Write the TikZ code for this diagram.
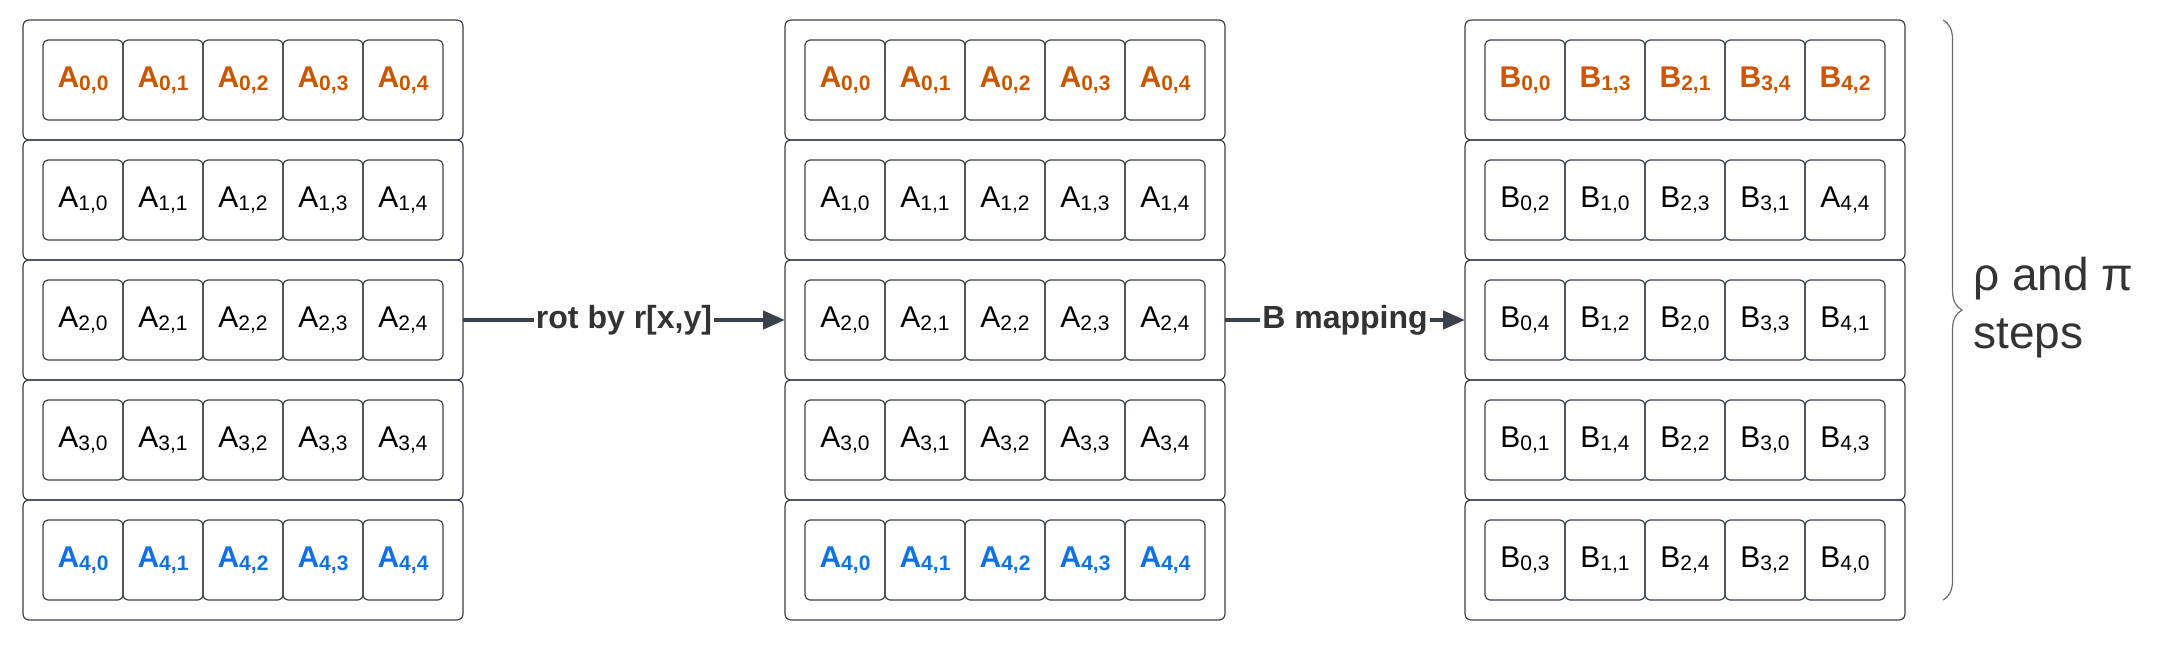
\documentclass[tikz,border=0pt]{standalone}
\usepackage{fontspec}
\setmainfont{Liberation Sans}
\usepackage{xcolor}
\usepackage{tikz}
\usetikzlibrary{positioning, arrows.meta, decorations.pathreplacing}
\definecolor{edgegray}{RGB}{58, 65, 74}
\definecolor{keyorange}{RGB}{204, 85, 0}
\definecolor{keyblue}{RGB}{16, 113, 229}
\definecolor{labelgray}{RGB}{51, 51, 51}
\definecolor{bracegray}{RGB}{105, 108, 112}
\newcommand{\ent}[2]{#1\raisebox{-1.6pt}{\fontsize{10.5}{12}\selectfont #2}}

\begin{document}
\begin{tikzpicture}[
    rowbox/.style={rectangle, draw=edgegray, line width=0.6pt, rounded corners=3pt, minimum width=220pt, minimum height=60pt, inner sep=0pt, outer sep=0pt},
    cell/.style={rectangle, draw=edgegray, line width=0.6pt, rounded corners=2.5pt, minimum width=40pt, minimum height=40pt, inner sep=0pt, outer sep=0pt, font=\fontsize{15}{18}\selectfont},
    toprow/.style={cell, text=keyorange, font=\fontsize{15}{18}\selectfont\bfseries},
    lastrow/.style={cell, text=keyblue, font=\fontsize{15}{18}\selectfont\bfseries},
    arrow/.style={line width=2.2pt, -{Triangle[length=11pt, width=9pt]}, color=edgegray},
    steplabel/.style={fill=white, text=labelgray, inner sep=1pt, font=\fontsize{16}{19}\selectfont\bfseries},
    brace/.style={decorate, decoration={brace, amplitude=9.5pt}, draw=bracegray, line width=0.6pt},
    note/.style={align=left, text=labelgray, inner sep=0pt, font=\fontsize{23}{29}\selectfont}]

    \useasboundingbox (0,0) rectangle (1083.5pt,-322.5pt);

    % Row frames: state A, rotated A, B
    \node[rowbox] (a0) at (121.5pt,-40pt) {};
    \foreach \i [count=\k from 1] in {0,...,3}
        \node[rowbox, below=0pt of a\i] (a\k) {};
    \foreach \i in {0,...,4} {
        \node[rowbox, right=161pt of a\i] (r\i) {};
        \node[rowbox, right=120pt of r\i] (b\i) {};
    }

    % Lanes of A, before and after rotation
    \foreach \m in {a,r}
        \foreach \i/\sty in {0/toprow, 1/cell, 2/cell, 3/cell, 4/lastrow}
            \foreach \j in {0,...,4} {
                \pgfmathsetmacro\off{10+40*\j}
                \node[\sty, right=\off pt of \m\i.west] (\m\i\j) {\ent{A}{\i,\j}};
            }

    % Lanes of B
    \foreach \i/\sty/\cells in {
        0/toprow/{B/0/0, B/1/3, B/2/1, B/3/4, B/4/2},
        1/cell/{B/0/2, B/1/0, B/2/3, B/3/1, A/4/4},
        2/cell/{B/0/4, B/1/2, B/2/0, B/3/3, B/4/1},
        3/cell/{B/0/1, B/1/4, B/2/2, B/3/0, B/4/3},
        4/cell/{B/0/3, B/1/1, B/2/4, B/3/2, B/4/0}}
        \foreach \l/\p/\q [count=\j from 0] in \cells {
            \pgfmathsetmacro\off{10+40*\j}
            \node[\sty, right=\off pt of b\i.west] (b\i\j) {\ent{\l}{\p,\q}};
        }

    % Connections
    \draw[arrow] (a2) -- node[steplabel] {rot by r[x,y]} (r2);
    \draw[arrow] (r2) -- node[steplabel] {B mapping} (b2);

    % Brace
    \coordinate (bracetop) at ([xshift=19pt]b0.north east);
    \coordinate (bracebot) at ([xshift=19pt, yshift=10pt]b4.south east);
    \draw[brace] (bracetop) -- (bracebot);
    \node[note, right=34pt of b2.east, yshift=6pt] (steps) {ρ and π\\steps};
\end{tikzpicture}
\end{document}
